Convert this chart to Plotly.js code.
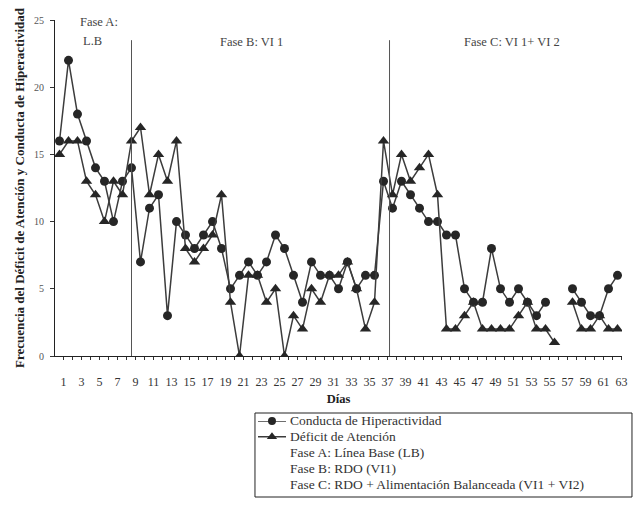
<!DOCTYPE html>
<html>
<head>
<meta charset="utf-8">
<script src="https://cdn.plot.ly/plotly-3.0.1.min.js"></script>
<style>html,body{margin:0;padding:0;background:#fff;}#chart{width:644px;height:505px;}</style>
</head>
<body>
<div id="chart"></div>
<script>
// ---- data ----
const days = [1,2,3,4,5,6,7,8,9,10,11,12,13,14,15,16,17,18,19,20,21,22,23,24,25,26,27,28,29,30,31,32,33,34,35,36,37,38,39,40,41,42,43,44,45,46,47,48,49,50,51,52,53,54,55,56,57,58,59,60,61,62,63];
const hiperactividad = [16,22,18,16,14,13,10,13,14,7, 11,12,3,10,9,8,9,10,8,5, 6,7,6,7,9,8,6,4,7,6, 6,5,7,5,6,6,13,11,13,12, 11,10,10,9,9,5,4,4,8,5, 4,5,4,3,4,null,null,5,4,3, 3,5,6];
const atencion = [15,16,16,13,12,10,13,12,16,17, 12,15,13,16,8,7,8,9,12,4, 0,6,6,4,5,0,3,2,5,4, 6,6,7,5,2,4,16,12,15,13, 14,15,12,2,2,3,4,2,2,2, 2,3,4,2,2,1,null,4,2,2, 3,2,2];
const tickLabels = ['1','3','5','7','9','11','13','15','17','19','21','23','25','27','29','31','33','35','37','39','41','43','45','47','49','51','53','55','57','59','61','63'];
const tickDays = [1,3,5,7,9,11,13,15,17,19,21,23,25,27,29,31,33,35,37,39,41,43,45,47,49,51,53,55,57,59,61,63];
const yTicks = [0,5,10,15,20,25];
const seriesNames = ['Conducta de Hiperactividad', 'Déficit de Atención'];
const seriesSymbols = ['circle', 'triangle-up'];
const phaseLegend = ['Fase A: Línea Base (LB)', 'Fase B: RDO (VI1)', 'Fase C: RDO + Alimentación Balanceada (VI1 + VI2)'];
const phaseBounds = [9, 37.67];
const phaseLabels = ['Fase A:', 'L.B', 'Fase B: VI 1', 'Fase C: VI 1+ VI 2'];

// ---- styling ----
const SERIF = '"Liberation Serif", "DejaVu Serif", serif';
const LINE_C = '#3c3c3c';
const MARK_C = '#262626';
const TEXT_C = '#333';
const labelOffset = 0.45;
const markerSizes = [9, 10];

const traces = [hiperactividad, atencion].map((vals, i) => ({
  x: days, y: vals, name: seriesNames[i], type: 'scatter', mode: 'lines+markers',
  line: {color: LINE_C, width: 1.5}, marker: {symbol: seriesSymbols[i], size: markerSizes[i], color: MARK_C},
  xaxis: 'x', yaxis: 'y', showlegend: false
}));

// hand-built legend (rows 1..5 on a hidden helper axis)
seriesNames.forEach((n, i) => traces.push({
  x: [0, 0.5, 1], y: [i + 1, i + 1, i + 1], xaxis: 'x2', yaxis: 'y2', type: 'scatter', mode: 'lines+markers',
  line: {color: LINE_C, width: 1.5}, marker: {symbol: seriesSymbols[i], size: markerSizes[i] - 1, color: MARK_C, opacity: [0, 1, 0]},
  showlegend: false, cliponaxis: false, hoverinfo: 'skip'
}));

const legendTexts = seriesNames.concat(phaseLegend);
const legFont = {family: SERIF, size: 13.5, color: TEXT_C};
const annFont = {family: SERIF, size: 12.5, color: '#444'};

const annotations = [
  {text: phaseLabels[0], x: 3.0, y: 24.85, xref: 'x', yref: 'y', showarrow: false, font: annFont, xanchor: 'left'},
  {text: phaseLabels[1], x: 3.4, y: 23.45, xref: 'x', yref: 'y', showarrow: false, font: annFont, xanchor: 'left'},
  {text: phaseLabels[2], x: 22.3, y: 23.4, xref: 'x', yref: 'y', showarrow: false, font: annFont, xanchor: 'center'},
  {text: phaseLabels[3], x: 51.3, y: 23.4, xref: 'x', yref: 'y', showarrow: false, font: annFont, xanchor: 'center'}
].concat(legendTexts.map((t, i) => ({
  text: t, x: 0.411, y: i + 1, xref: 'paper', yref: 'y2', xanchor: 'left', yanchor: 'middle',
  showarrow: false, font: legFont
})));

const shapes = phaseBounds.map(b => ({type: 'line', xref: 'x', yref: 'y', x0: b, x1: b, y0: 0, y1: 23.5,
  line: {color: '#555', width: 1}}));
shapes.push({type: 'rect', xref: 'paper', yref: 'paper', x0: 0.3527, x1: 1.0176, y0: 0.00625, y1: 0.18125,
  line: {color: '#222', width: 1}, fillcolor: 'rgba(0,0,0,0)'});

const layout = {
  width: 644, height: 505,
  margin: {l: 55, r: 22, t: 20, b: 5},
  paper_bgcolor: '#fff', plot_bgcolor: '#fff',
  font: {family: SERIF, color: TEXT_C},
  showlegend: false,
  xaxis: {domain: [0, 1], anchor: 'y', range: [0.5, 63.5], showgrid: false, zeroline: false, showline: true, linecolor: '#222', linewidth: 1,
    tickmode: 'array', tickvals: tickDays.map(d => d + labelOffset), ticktext: tickLabels,
    ticks: '', tickfont: {family: SERIF, size: 12, color: TEXT_C}, ticklabelstandoff: 15,
    minor: {tick0: 1 + labelOffset, dtick: 1, ticks: 'outside', ticklen: 3, tickcolor: '#333', tickwidth: 1},
    title: {text: '<b>Días</b>', font: {family: SERIF, size: 12.5, color: '#222'}, standoff: 5}},
  yaxis: {domain: [0.3, 1], anchor: 'x', range: [0, 25], showgrid: false, zeroline: false, showline: true, linecolor: '#222', linewidth: 1,
    tickmode: 'array', tickvals: yTicks, ticks: 'outside', ticklen: 4, tickcolor: '#333',
    tickfont: {family: SERIF, size: 10, color: '#555'}, ticklabelstandoff: 4,
    title: {text: '<b>Frecuencia del Déficit de Atención y Conducta de Hiperactividad</b>',
      font: {family: SERIF, size: 13, color: '#222'}, standoff: 6}},
  xaxis2: {domain: [0.358, 0.4074], anchor: 'y2', range: [0, 1], visible: false, fixedrange: true},
  yaxis2: {domain: [0.0333, 0.1646], anchor: 'x2', range: [5, 1], visible: false, fixedrange: true},
  shapes: shapes,
  annotations: annotations
};

Plotly.newPlot('chart', traces, layout, {displayModeBar: false, staticPlot: true});
</script>
</body>
</html>
